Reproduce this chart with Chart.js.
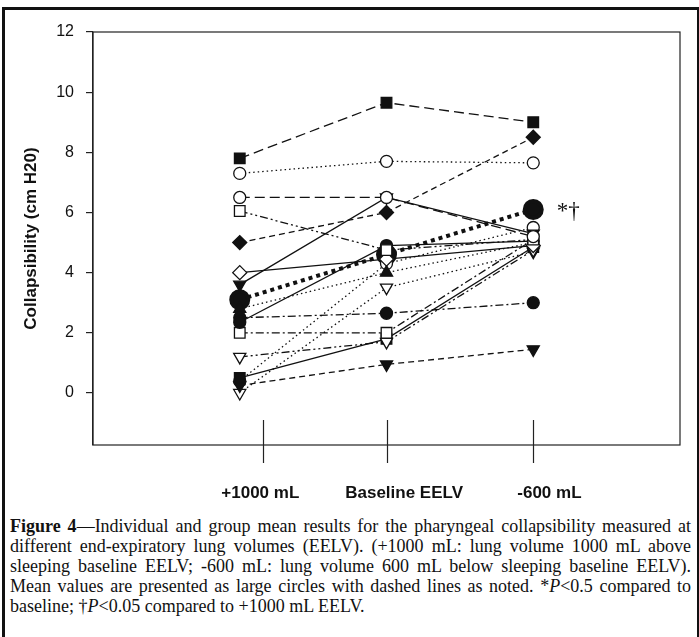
<!DOCTYPE html>
<html>
<head>
<meta charset="utf-8">
<script src="https://cdn.jsdelivr.net/npm/chart.js@4"></script>
<style>
  html, body { margin: 0; padding: 0; background: #fff; }
  #frame { position: absolute; left: 2px; top: 7px; width: 692px; height: 640px;
           border-left: 3px solid #111; border-top: 3px solid #111; border-right: 3px solid #111; }
  #wrap { position: absolute; left: 0; top: 0; width: 699px; height: 515px; }
  #caption { position: absolute; left: 10px; top: 516px; width: 681px;
             font-family: "Liberation Serif", "Times New Roman", serif; font-size: 18px;
             line-height: 20px; color: #111; text-align: justify; }
</style>
</head>
<body>
<div id="frame"></div>
<div id="wrap"><canvas id="chart" width="699" height="515"></canvas></div>
<div id="caption"><b>Figure 4</b>—Individual and group mean results for the pharyngeal collapsibility measured at different end-expiratory lung volumes (EELV). (+1000 mL: lung volume 1000 mL above sleeping baseline EELV; -600 mL: lung volume 600 mL below sleeping baseline EELV). Mean values are presented as large circles with dashed lines as noted. *<i>P</i>&lt;0.5 compared to baseline; †<i>P</i>&lt;0.05 compared to +1000 mL EELV.</div>
<script>
// conditions, x positions
var categories = ['+1000 mL', 'Baseline EELV', '-600 mL'];
var xPositions = [1, 2, 3];
var tickLinePositions = [1.16, 2, 3];
var labelPositions = [1.14, 2.12, 3.11];
var yTicks = [0, 2, 4, 6, 8, 10, 12];

// individual subjects [+1000, baseline, -600]
var s1 = [7.8, 9.65, 9.0];
var s2 = [7.3, 7.7, 7.65];
var s3 = [6.5, 6.5, 5.2];
var s4 = [6.05, 4.75, 5.1];
var s5 = [5.0, 6.0, 8.5];
var s6 = [4.0, 4.45, 4.9];
var s7 = [3.6, 6.5, 5.3];
var s8 = [2.8, 4.0, 5.0];
var s9 = [2.35, 4.9, 5.05];
var s10 = [2.5, 2.65, 3.0];
var s11 = [2.0, 2.0, 5.1];
var s12 = [1.2, 1.7, 4.75];
var s13 = [0.5, 1.8, 4.85];
var s14 = [0.25, 0.95, 1.45];
var s15 = [0.0, 3.5, 4.7];
var s16 = [0.4, 4.3, 5.5];
var meanValues = [3.1, 4.6, 6.1];

var LONG = [10, 5], DASH = [6, 4], DOT = [1.5, 3], DASHDOT = [8, 3, 2, 3], DASHDOT2 = [8, 3, 2, 3, 2, 3], SOLID = [];

function pts(vals) {
    return vals.map(function (v, i) { return { x: xPositions[i], y: v }; });
}

function subject(vals, style, filled, dash, down) {
    var r = { circle: 6, rect: 7.5, rectRot: 7, triangle: 7 }[style];
    return {
        data: pts(vals),
        borderColor: '#111',
        borderWidth: 1.3,
        borderDash: dash,
        pointStyle: style,
        pointRotation: down ? 180 : 0,
        pointRadius: r,
        pointBorderWidth: 1.3,
        pointBackgroundColor: filled ? '#111' : '#fff',
        pointBorderColor: '#111',
        fill: false,
        tension: 0
    };
}

var datasets = [
    subject(s1, 'rect', true, LONG),
    subject(s2, 'circle', false, DOT),
    subject(s3, 'circle', false, LONG),
    subject(s4, 'rect', false, DASHDOT2),
    subject(s5, 'rectRot', true, DASH),
    subject(s6, 'rectRot', false, SOLID),
    subject(s7, 'triangle', true, SOLID, true),
    subject(s8, 'triangle', true, DOT),
    subject(s9, 'circle', true, SOLID),
    subject(s10, 'circle', true, DASHDOT),
    subject(s11, 'rect', false, DASHDOT),
    subject(s12, 'triangle', false, DASHDOT2, true),
    subject(s13, 'rect', true, SOLID),
    subject(s14, 'triangle', true, DASH, true),
    subject(s15, 'triangle', false, DOT, true),
    subject(s16, 'circle', false, DOT),
    {
        data: pts(meanValues),
        borderColor: '#111',
        borderWidth: 4,
        borderDash: [4, 4],
        pointStyle: 'circle',
        pointRadius: 8.5,
        pointBackgroundColor: '#111',
        pointBorderColor: '#111',
        fill: false
    }
];

var framePlugin = {
    id: 'frameLines',
    afterDraw: function (chart) {
        var ctx = chart.ctx, a = chart.chartArea;
        var xs = chart.scales.x, ys = chart.scales.y;
        ctx.save();
        ctx.strokeStyle = '#222';
        ctx.lineWidth = 1.2;
        ctx.strokeRect(a.left, a.top, a.right - a.left, a.bottom - a.top);
        // category tick lines crossing the bottom edge
        tickLinePositions.forEach(function (v) {
            var px = Math.round(xs.getPixelForValue(v)) + 0.5;
            ctx.beginPath();
            ctx.moveTo(px, a.bottom - 25);
            ctx.lineTo(px, a.bottom + 18);
            ctx.stroke();
        });
        // category labels
        ctx.fillStyle = '#111';
        ctx.font = 'bold 17px "Liberation Sans", Arial, sans-serif';
        ctx.textAlign = 'center';
        ctx.textBaseline = 'middle';
        labelPositions.forEach(function (v, i) {
            ctx.fillText(categories[i], xs.getPixelForValue(v), a.bottom + 48);
        });
        // y title
        ctx.save();
        ctx.translate(31, (a.top + a.bottom) / 2);
        ctx.rotate(-Math.PI / 2);
        ctx.fillText('Collapsibility (cm H20)', 0, 0);
        ctx.restore();
        // significance marks
        ctx.font = '23px "Liberation Serif", serif';
        ctx.textAlign = 'left';
        ctx.fillText('*†', xs.getPixelForValue(3.16), ys.getPixelForValue(meanValues[2]) + 2);
        ctx.restore();
    }
};

new Chart(document.getElementById('chart'), {
    type: 'line',
    data: { datasets: datasets },
    options: {
        responsive: false,
        animation: false,
        layout: { padding: { top: 32, right: 19, left: 0, bottom: 0 } },
        plugins: { legend: { display: false }, tooltip: { enabled: false } },
        scales: {
            x: {
                type: 'linear',
                min: 0,
                max: 4,
                grid: { display: false },
                border: { display: false },
                ticks: { display: false },
                afterFit: function (s) { s.height = 70; }
            },
            y: {
                min: -1.73,
                max: 12,
                afterBuildTicks: function (s) {
                    s.ticks = yTicks.map(function (v) { return { value: v }; });
                },
                afterFit: function (s) { s.width = 93; },
                grid: { drawOnChartArea: false, tickLength: 7, color: '#222', lineWidth: 1.2 },
                border: { display: true, color: '#222', width: 1.2 },
                ticks: {
                    color: '#111',
                    padding: 12,
                    font: { family: '"Liberation Sans", Arial, sans-serif', size: 16 }
                }
            }
        }
    },
    plugins: [framePlugin]
});
</script>
</body>
</html>
